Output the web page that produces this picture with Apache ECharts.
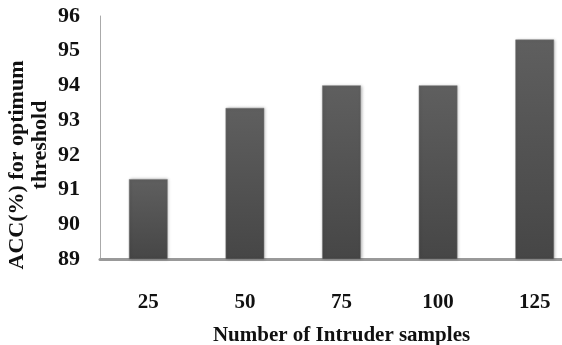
<!DOCTYPE html>
<html>
<head>
<meta charset="utf-8">
<script src="https://cdn.jsdelivr.net/npm/echarts@6/dist/echarts.min.js"></script>
<style>html,body{margin:0;padding:0;background:#fff}#c{width:562px;height:345px}</style>
</head>
<body>
<div id="c"></div>
<script>
const categories = ['25', '50', '75', '100', '125'];
const accValues = [91.3, 93.35, 94.0, 94.0, 95.32];
const yTicks = { min: 89, max: 96, interval: 1 };
const xAxisTitle = 'Number of Intruder samples';
const yTitleLine1 = 'ACC(%) for optimum';
const yTitleLine2 = 'threshold';

const font = '"Liberation Serif", "DejaVu Serif", serif';
const chart = echarts.init(document.getElementById('c'));
chart.setOption({
  animation: false,
  backgroundColor: '#fff',
  grid: { left: 100, right: -21, top: 16, bottom: 86, containLabel: false, outerBoundsMode: 'none' },
  xAxis: {
    type: 'category',
    data: categories,
    axisLine: { show: true, lineStyle: { color: '#999', width: 3 } },
    axisTick: { show: false },
    axisLabel: { margin: 33, fontFamily: font, fontWeight: 'bold', fontSize: 21, color: '#111' },
    name: xAxisTitle,
    nameLocation: 'middle',
    nameGap: 66,
    nameTextStyle: { fontFamily: font, fontWeight: 'bold', fontSize: 21, color: '#111' }
  },
  yAxis: {
    type: 'value',
    min: yTicks.min, max: yTicks.max, interval: yTicks.interval,
    axisLine: { show: true, lineStyle: { color: '#aaa', width: 1 } },
    axisTick: { show: false },
    splitLine: { show: false },
    axisLabel: { margin: 20, fontFamily: font, fontWeight: 'bold', fontSize: 22, color: '#111' }
  },
  graphic: [
    { type: 'text', x: 17, y: 165, rotation: Math.PI / 2,
      style: { text: yTitleLine1, font: 'bold 22px ' + font, fill: '#111', textAlign: 'center', textVerticalAlign: 'middle' } },
    { type: 'text', x: 40, y: 145, rotation: Math.PI / 2,
      style: { text: yTitleLine2, font: 'bold 22px ' + font, fill: '#111', textAlign: 'center', textVerticalAlign: 'middle' } }
  ],
  series: [{
    type: 'bar',
    data: accValues,
    barWidth: '40%',
    itemStyle: {
      color: new echarts.graphic.LinearGradient(0, 0, 0, 1, [
        { offset: 0, color: '#5f5f5f' }, { offset: 1, color: '#464646' }
      ]),
      borderColor: '#777', borderWidth: 0.5,
      shadowColor: 'rgba(0,0,0,0.25)', shadowBlur: 3, shadowOffsetX: 1, shadowOffsetY: 0
    }
  }]
});
</script>
</body>
</html>
